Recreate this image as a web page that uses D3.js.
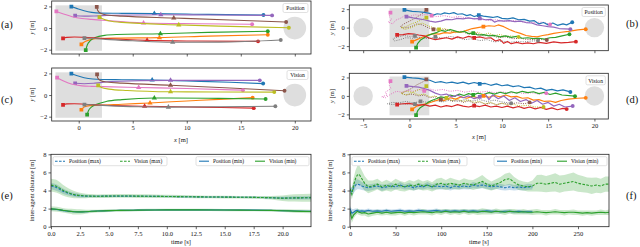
<!DOCTYPE html>
<html>
<head>
<meta charset="utf-8">
<script src="https://cdn.jsdelivr.net/npm/d3@7"></script>
<style>
body { margin: 0; background: #fff; }
svg { display: block; }
text { font-family: "Liberation Serif", "DejaVu Serif", serif; fill: #111; }
</style>
</head>
<body>
<svg id="viz"></svg>
<script>
const WIDTH = 640
const HEIGHT = 247

// agents, in the order of the tab10 palette
const AGENTS = ['1', '2', '3', '4', '5', '6', '7', '8', '9']

// (a) position-based, smooth runs [x, y] in metres
const pathsA = [
    [[-0.68, 1.98], [-0.2, 1.82], [0.5, 1.6], [1.2, 1.45], [2, 1.38], [4, 1.36], [7, 1.35], [12, 1.26], [17.1, 1.2]],
    [[0.25, -1.5], [0.6, -1.25], [1.2, -1.05], [2, -0.97], [3.5, -0.93], [7.47, -0.89], [12, -0.75], [17.5, -0.62]],
    [[0.65, -2.05], [0.8, -1.55], [1.1, -1.15], [1.6, -0.85], [2.4, -0.68], [3.5, -0.6], [7.56, -0.53], [12, -0.4], [17.5, -0.29]],
    [[-1.45, -0.95], [-1.1, -0.86], [-0.4, -0.83], [0.5, -0.86], [2, -0.95], [6.33, -1.14], [11, -1.2], [16.6, -1.23]],
    [[-0.33, 1.14], [0.5, 1.1], [1.5, 1.12], [3, 1.18], [7.6, 1.23], [12, 1.2], [17.9, 1.17]],
    [[1.67, 1.95], [1.75, 1.65], [2.0, 1.38], [2.6, 1.2], [4, 1.1], [8.8, 0.93], [14, 0.75], [19.2, 0.56]],
    [[-2.07, 1.53], [-1.4, 1.3], [-0.6, 1.05], [0.3, 0.88], [1.2, 0.8], [2.2, 0.72], [6, 0.47], [11, 0.4], [16.05, 0.35]],
    [[0.53, -0.93], [1.2, -0.95], [2.5, -1.05], [5, -1.18], [8.7, -1.32], [13, -1.3], [18.7, -1.1]],
    [[1.92, 1.02], [2.2, 0.85], [2.8, 0.68], [4, 0.52], [9.26, 0.29], [14, 0.15], [19.45, 0.02]]
]
const midA = [[7, 1.35], [7.47, -0.89], [7.56, -0.53], [6.33, -1.14], [7.6, 1.23], [8.8, 0.93], [6, 0.47], [8.7, -1.32], [9.26, 0.29]]

// (c) vision-based, smooth runs
const pathsC = [
    [[-0.68, 1.97], [-0.2, 1.8], [0.5, 1.6], [1.3, 1.48], [2.2, 1.44], [4, 1.42], [6.8, 1.39], [10, 1.3], [14, 1.18], [17.07, 1.06]],
    [[0.25, -1.36], [0.5, -1.1], [1.0, -0.98], [2, -0.95], [4, -0.85], [6.6, -0.73], [10, -0.55], [13, -0.4], [16.1, -0.24]],
    [[0.78, -1.82], [0.9, -1.45], [1.2, -1.1], [1.8, -0.8], [2.6, -0.58], [4, -0.42], [7, -0.27], [12, -0.3], [17.3, -0.36]],
    [[-1.45, -0.9], [-1.1, -0.82], [-0.4, -0.8], [0.6, -0.85], [2.5, -0.95], [6.1, -1.03], [11, -1.12], [16.2, -1.21]],
    [[-0.33, 1.09], [0.5, 1.05], [1.5, 1.1], [3, 1.25], [8.5, 1.36], [12, 1.36], [16.76, 1.36]],
    [[1.7, 1.9], [1.75, 1.6], [2.0, 1.35], [2.6, 1.2], [4, 1.1], [8.5, 0.9], [14, 0.65], [19.05, 0.4]],
    [[-2.0, 1.6], [-1.4, 1.3], [-0.6, 1.0], [0.3, 0.85], [1.2, 0.8], [2.2, 0.78], [5.55, 0.7], [10, 0.6], [15.2, 0.45]],
    [[0.53, -0.88], [1.2, -0.9], [3, -1.0], [5.5, -1.08], [8.3, -1.12], [13, -1.08], [18.2, -1.03]],
    [[1.8, 0.9], [2.1, 0.7], [2.8, 0.55], [4.5, 0.42], [8.5, 0.3], [13, 0.28], [18.1, 0.27]]
]
const midC = [[6.8, 1.39], [6.6, -0.73], [7, -0.27], [6.1, -1.03], [8.5, 1.36], [8.5, 0.9], [5.55, 0.7], [8.3, -1.12], [8.5, 0.3]]

// (b) position-based, noisy runs
const pathsB = [
    [[-0.54, 1.92], [0.3, 1.75], [1.0, 1.72], [1.6, 1.65], [2.2, 1.55], [2.6, 1.35], [3.0, 1.5], [3.4, 1.45], [3.8, 1.6], [4.3, 1.5], [4.8, 1.62], [5.2, 1.45], [5.7, 1.5], [6.2, 1.3], [6.6, 1.4], [7.0, 1.2], [7.5, 1.35], [8.0, 1.25], [8.4, 1.2], [9.0, 1.1], [9.5, 1.2], [10.0, 1.0], [10.6, 0.95], [11.2, 1.05], [11.8, 0.85], [12.4, 0.9], [13.0, 0.7], [13.5, 0.75], [14.0, 0.4], [14.5, 0.55], [15.0, 0.3], [15.5, 0.5], [16.0, 0.25], [16.6, 0.4], [17.0, 0.3], [17.6, 0.58]],
    [[0.29, -1.52], [0.8, -1.3], [1.4, -1.05], [2.0, -0.8], [2.6, -0.65], [3.2, -0.7], [3.8, -0.55], [4.4, -0.6], [5.0, -0.45], [5.6, -0.5], [6.2, -0.3], [6.8, -0.1], [7.4, 0.0], [8.0, 0.1], [8.6, 0.2], [9.2, 0.15], [9.6, 0.29], [10.2, 0.1], [10.8, -0.2], [11.4, -0.45], [12.0, -0.62], [12.6, -0.85], [13.2, -0.95], [13.8, -1.0], [14.4, -0.85], [15.0, -0.75], [15.6, -0.62], [16.4, -0.5], [17.2, -0.4], [18.2, -0.25], [19.06, -0.17]],
    [[0.72, -2.17], [0.9, -1.7], [1.2, -1.35], [1.6, -1.1], [2.0, -0.85], [2.4, -0.7], [2.9, -0.55], [3.4, -0.3], [3.9, -0.4], [4.4, -0.2], [4.9, -0.35], [5.4, -0.5], [5.9, -0.4], [6.4, -0.65], [6.9, -0.6], [7.4, -0.8], [8.0, -0.75], [8.6, -0.9], [9.2, -0.85], [9.8, -1.0], [10.4, -0.9], [11.0, -1.05], [11.6, -0.95], [12.2, -1.15], [12.8, -1.1], [13.4, -1.2], [14.0, -1.15], [14.6, -1.25], [15.2, -1.1], [15.8, -1.05], [16.5, -0.9], [17.3, -0.72]],
    [[-1.33, -0.79], [-0.7, -0.75], [-0.1, -0.65], [0.5, -0.7], [1.0, -0.8], [1.6, -0.9], [2.2, -1.15], [2.8, -1.3], [3.4, -1.2], [4.0, -1.1], [4.6, -1.25], [5.2, -1.0], [5.8, -1.15], [6.4, -0.95], [7.0, -1.1], [7.6, -1.0], [8.2, -1.15], [8.8, -1.1], [9.3, -1.45], [9.8, -1.3], [10.2, -1.7], [10.6, -1.5], [11.0, -1.75], [11.6, -1.6], [12.2, -1.75], [12.8, -1.65], [13.4, -1.75], [14.0, -1.6], [14.8, -1.7], [15.6, -1.55], [16.4, -1.65], [17.2, -1.6], [18.0, -1.52]],
    [[-0.32, 1.2], [0.4, 1.05], [1.0, 0.95], [1.6, 0.85], [2.2, 0.7], [2.8, 0.6], [3.4, 0.7], [4.0, 0.9], [4.6, 0.85], [5.2, 1.0], [5.8, 0.95], [6.4, 1.05], [7.0, 0.95], [7.6, 1.0], [8.2, 0.85], [8.8, 0.9], [9.2, 0.6], [9.6, 0.75], [10.2, 0.7], [10.8, 0.75], [11.4, 0.65], [12.0, 0.7], [12.6, 0.55], [13.2, 0.5], [13.8, 0.3], [14.4, 0.2], [15.0, 0.1], [15.6, 0.05], [16.2, -0.1], [17.4, -0.17]],
    [[1.83, 1.92], [1.5, 1.6], [1.2, 1.4], [0.6, 1.0], [0.0, 0.7], [-0.6, 0.4], [-1.0, 0.1], [-0.6, -0.05], [0.2, 0.1], [0.8, 0.4], [1.4, 0.3], [2.0, 0.0], [2.6, -0.2], [3.2, -0.3], [4.0, -0.2], [4.8, -0.5], [5.6, -0.4], [6.4, -0.7], [7.2, -0.6], [8.0, -0.9], [8.8, -0.8], [9.6, -1.1], [10.4, -1.0], [11.2, -1.2], [12.0, -1.15], [12.8, -1.3], [13.6, -1.25], [14.85, -1.34]],
    [[-2.05, 1.63], [-2.2, 1.2], [-1.9, 0.9], [-2.3, 0.6], [-1.8, 0.4], [-1.5, 0.8], [-1.0, 1.0], [-0.5, 1.3], [0.0, 1.2], [0.6, 1.4], [1.2, 1.3], [1.8, 1.45], [2.4, 1.3], [3.0, 1.2], [3.8, 1.3], [4.6, 1.1], [5.4, 1.2], [6.4, 1.0], [7.4, 0.95], [8.4, 0.8], [9.4, 0.85], [10.4, 0.7], [11.4, 0.75], [12.4, 0.6], [13.4, 0.55], [14.4, 0.6], [15.2, 0.35]],
    [[0.6, -0.9], [0.0, -0.95], [-0.6, -0.85], [-1.2, -1.0], [-1.8, -1.2], [-1.6, -1.45], [-1.0, -1.3], [-0.4, -1.1], [0.4, -1.15], [1.2, -1.05], [2.0, -1.2], [2.8, -1.0], [3.6, -1.15], [4.4, -0.95], [5.2, -1.1], [6.0, -1.3], [6.8, -1.2], [7.6, -1.4], [8.4, -1.3], [9.2, -1.55], [10.0, -1.45], [10.8, -1.6], [11.6, -1.5], [12.4, -1.55], [13.2, -1.45], [13.9, -1.41]],
    [[1.83, 1.09], [1.4, 0.9], [0.8, 0.6], [0.2, 0.4], [-0.4, 0.1], [-0.9, 0.0], [-0.5, -0.2], [0.2, 0.0], [0.8, 0.3], [1.4, 0.5], [2.0, 0.2], [2.6, 0.0], [3.2, -0.2], [3.8, -0.1], [4.4, -0.35], [5.0, -0.55], [5.6, -0.45], [6.2, -0.3], [6.8, -0.6], [7.4, -0.5], [8.0, -0.75], [8.6, -0.6], [9.2, -0.85], [9.8, -0.75], [10.4, -0.95], [11.0, -0.9], [11.8, -1.0]]
]

// (d) vision-based, noisy runs
const pathsD = [
    [[-0.54, 2.04], [0.3, 1.95], [1.0, 1.9], [1.6, 1.8], [2.2, 1.7], [2.8, 1.45], [3.4, 1.55], [4.0, 1.4], [4.6, 1.5], [5.2, 1.35], [5.8, 1.5], [6.4, 1.3], [7.0, 1.45], [7.6, 1.3], [8.2, 1.35], [8.8, 1.15], [9.4, 1.3], [10.0, 1.1], [10.6, 1.2], [11.2, 1.0], [11.8, 1.1], [12.4, 0.9], [13.0, 0.95], [13.6, 0.75], [14.2, 0.85], [14.8, 0.6], [15.4, 0.7], [16.0, 0.55], [16.6, 0.65], [17.4, 0.43]],
    [[0.29, -1.46], [0.8, -1.1], [1.4, -0.95], [2.0, -0.8], [2.6, -0.6], [3.2, -0.4], [3.8, -0.5], [4.4, -0.2], [5.0, -0.35], [5.6, -0.1], [6.2, -0.25], [6.8, -0.05], [7.4, -0.2], [8.0, 0.0], [8.6, -0.15], [9.2, 0.05], [9.8, -0.1], [10.4, 0.1], [11.0, -0.1], [11.6, -0.05], [12.2, -0.25], [12.8, -0.2], [13.4, -0.45], [14.0, -0.4], [14.6, -0.6], [15.2, -0.55], [15.8, -0.7], [16.4, -0.5], [17.2, -0.35], [18.2, -0.25], [19.06, -0.21]],
    [[0.72, -2.07], [0.9, -1.6], [1.2, -1.25], [1.6, -1.0], [2.0, -0.7], [2.4, -0.5], [2.9, -0.3], [3.4, -0.1], [3.9, -0.2], [4.4, 0.1], [4.9, -0.05], [5.4, 0.2], [5.9, 0.05], [6.4, 0.25], [6.9, 0.1], [7.4, 0.3], [8.0, 0.15], [8.6, 0.35], [9.2, 0.2], [9.8, 0.4], [10.4, 0.25], [11.0, 0.45], [11.6, 0.3], [12.2, 0.5], [12.8, 0.35], [13.4, 0.45], [14.0, 0.25], [14.6, 0.4], [15.2, 0.15], [15.8, 0.3], [16.5, 0.1], [17.9, -0.03]],
    [[-1.33, -0.93], [-0.7, -0.85], [-0.1, -0.8], [0.5, -0.9], [1.0, -1.0], [1.6, -0.95], [2.2, -1.1], [2.8, -1.0], [3.4, -1.2], [4.0, -1.05], [4.6, -1.15], [5.2, -0.95], [5.8, -1.1], [6.4, -1.2], [7.0, -1.05], [7.6, -1.15], [8.2, -1.0], [8.8, -1.2], [9.4, -1.1], [10.0, -1.25], [10.6, -1.1], [11.2, -1.3], [11.8, -1.15], [12.4, -1.35], [13.0, -1.2], [13.6, -1.4], [14.2, -1.25], [14.8, -1.45], [15.4, -1.3], [16.0, -1.5], [16.6, -1.35], [17.0, -1.43]],
    [[-0.32, 1.08], [0.4, 1.0], [1.0, 0.95], [1.6, 0.8], [2.2, 0.6], [2.8, 0.3], [3.4, 0.1], [4.0, 0.2], [4.6, -0.1], [5.2, 0.1], [5.8, -0.2], [6.4, 0.0], [7.0, -0.3], [7.6, -0.1], [8.2, 0.2], [8.6, -0.4], [9.0, 0.1], [9.6, -0.3], [10.2, 0.0], [10.8, -0.5], [11.4, -0.2], [12.0, -0.6], [12.6, -0.4], [13.2, -0.8], [13.8, -0.5], [14.4, -0.9], [15.0, -0.7], [15.6, -1.1], [16.2, -0.9], [16.8, -1.2], [17.65, -1.1]],
    [[1.83, 1.8], [1.4, 1.5], [0.8, 1.2], [0.2, 0.8], [-0.4, 0.5], [-0.9, 0.3], [-0.4, 0.1], [0.3, 0.2], [1.0, 0.0], [1.6, 0.1], [2.2, -0.2], [2.8, -0.1], [3.4, -0.4], [4.0, -0.3], [4.6, -0.6], [5.2, -0.45], [5.8, -0.7], [6.4, -0.55], [7.0, -0.8], [7.6, -0.65], [8.2, -0.9], [8.8, -0.75], [9.4, -0.95], [10.0, -0.8], [10.8, -0.9], [11.6, -0.75], [12.4, -0.85], [13.0, -0.7]],
    [[-2.05, 1.61], [-2.2, 1.2], [-2.0, 0.8], [-2.6, 0.4], [-2.4, 0.1], [-3.0, -0.1], [-2.6, -0.2], [-2.0, 0.2], [-1.4, 0.5], [-0.8, 0.4], [-0.2, 0.6], [0.4, 0.5], [1.0, 0.7], [1.6, 0.55], [2.2, 0.75], [2.8, 0.6], [3.6, 0.7], [4.4, 0.5], [5.2, 0.6], [6.0, 0.4], [6.8, 0.55], [7.6, 0.4], [8.4, 0.5], [9.2, 0.35], [10.0, 0.45], [10.8, 0.3], [11.6, 0.4], [12.4, 0.25], [13.2, 0.35], [14.0, 0.2], [14.8, 0.3]],
    [[0.6, -0.9], [0.0, -0.85], [-0.6, -0.9], [-1.2, -0.8], [-1.8, -0.95], [-2.4, -0.85], [-1.8, -0.7], [-1.2, -0.75], [-0.4, -0.6], [0.4, -0.75], [1.2, -0.6], [2.0, -0.7], [2.8, -0.5], [3.6, -0.65], [4.4, -0.45], [5.2, -0.6], [6.0, -0.4], [6.8, -0.55], [7.6, -0.4], [8.4, -0.6], [9.2, -0.45], [10.0, -0.65], [11.0, -0.8]],
    [[1.83, 1.06], [1.4, 0.8], [0.8, 0.6], [0.2, 0.3], [-0.4, 0.1], [-0.9, 0.3], [-0.4, 0.5], [0.3, 0.4], [1.0, 0.1], [1.6, 0.2], [2.2, -0.1], [2.8, 0.0], [3.4, -0.3], [4.0, -0.2], [4.6, -0.5], [5.2, -0.35], [5.8, -0.6], [6.4, -0.45], [7.0, -0.7], [7.6, -0.6], [8.2, -0.85], [8.8, -0.7], [9.4, -0.95], [10.0, -0.8], [10.6, -1.0], [11.2, -0.9], [12.0, -1.1], [12.8, -1.0], [13.6, -1.2], [14.5, -1.2]]
]

// arena: start zone and the two round obstacles
const startZone = [[-2.15, -2.1], [2.15, 2.1]]
const obstacles = [[-5, 0], [20, 0]]
const OBSTACLE_R = 1.05

// (e) inter-agent distance, short run
const tE = [0, 0.5, 1, 1.5, 2, 2.5, 3, 3.5, 4, 5, 6, 7.5, 9, 10, 12.5, 15, 17.5, 19, 20, 21, 22.45]
const posMaxE = [4.5, 4.3, 3.95, 3.7, 3.52, 3.42, 3.38, 3.37, 3.37, 3.38, 3.38, 3.37, 3.35, 3.34, 3.3, 3.27, 3.24, 3.2, 3.16, 3.18, 3.2]
const posMaxSdE = [0.35, 0.35, 0.3, 0.25, 0.22, 0.2, 0.15, 0.12, 0.12, 0.1, 0.1, 0.1, 0.1, 0.1, 0.1, 0.1, 0.1, 0.12, 0.15, 0.18, 0.2]
const visMaxE = [4.6, 4.45, 4.05, 3.75, 3.55, 3.45, 3.4, 3.38, 3.37, 3.38, 3.4, 3.38, 3.36, 3.34, 3.3, 3.27, 3.24, 3.2, 3.15, 3.18, 3.2]
const visMaxSdE = [0.7, 0.7, 0.6, 0.5, 0.4, 0.3, 0.25, 0.22, 0.2, 0.2, 0.2, 0.2, 0.2, 0.18, 0.15, 0.15, 0.15, 0.2, 0.3, 0.4, 0.45]
const posMinE = [1.95, 1.9, 1.8, 1.7, 1.65, 1.64, 1.66, 1.7, 1.74, 1.78, 1.8, 1.83, 1.85, 1.86, 1.86, 1.85, 1.83, 1.8, 1.78, 1.74, 1.7]
const posMinSdE = [0.12, 0.12, 0.12, 0.12, 0.12, 0.1, 0.1, 0.1, 0.1, 0.1, 0.1, 0.1, 0.1, 0.1, 0.1, 0.1, 0.1, 0.1, 0.1, 0.1, 0.1]
const visMinE = [1.97, 1.92, 1.82, 1.72, 1.66, 1.64, 1.66, 1.7, 1.73, 1.78, 1.8, 1.83, 1.85, 1.86, 1.86, 1.84, 1.82, 1.8, 1.77, 1.72, 1.68]
const visMinSdE = [0.25, 0.28, 0.25, 0.25, 0.3, 0.28, 0.22, 0.18, 0.15, 0.15, 0.15, 0.12, 0.12, 0.12, 0.12, 0.12, 0.12, 0.12, 0.15, 0.18, 0.2]

// (f) inter-agent distance, long run (position run stops at 200 s)
const tF = [0, 2, 4, 6, 8, 10, 13, 16, 20, 25, 30, 35, 40, 45, 50, 55, 60, 65, 70, 75, 80, 85, 90, 95, 100, 105, 110, 115, 120, 125, 130, 135, 140, 145, 150, 155, 160, 165, 170, 175, 180, 185, 190, 195, 200, 205, 210, 215, 220, 225, 230, 235, 240, 245, 250, 255, 260, 265, 270, 275, 280, 284]
const posMaxF = [4.0, 3.9, 4.3, 4.6, 4.7, 4.65, 4.5, 4.4, 4.3,
    4.4, 4.5, 4.3, 4.4, 4.5, 4.4, 4.6, 4.4, 4.5, 4.3,
    4.5, 4.4, 4.6, 4.4, 4.5, 4.4, 4.5, 4.3, 4.5, 4.4,
    4.5, 4.4, 4.6, 4.5, 4.6, 4.5, 4.4, 4.5, 4.4, 4.3,
    4.4, 4.3, 4.4, 4.3, 4.4, 4.4]
const posMaxSdF = [0.3, 0.5, 0.6, 0.6, 0.55, 0.5, 0.45, 0.4, 0.35,
    0.35, 0.3, 0.35, 0.3, 0.35, 0.3, 0.35, 0.3, 0.35, 0.3,
    0.35, 0.3, 0.35, 0.3, 0.35, 0.3, 0.35, 0.3, 0.35, 0.3,
    0.35, 0.3, 0.35, 0.3, 0.35, 0.3, 0.35, 0.3, 0.35, 0.3,
    0.35, 0.3, 0.35, 0.3, 0.35, 0.3]
const visMaxF = [4.2, 3.6, 4.6, 5.3, 5.7, 5.8, 5.3, 4.8, 4.4,
    4.5, 4.7, 4.4, 4.6, 4.4, 4.7, 4.5, 4.4, 4.6, 4.5,
    4.7, 4.5, 4.6, 4.4, 4.7, 4.8, 4.6, 4.8, 4.7, 4.6,
    4.8, 4.7, 4.6, 4.8, 5.0, 4.7, 4.5, 4.7, 4.9, 5.2,
    5.3, 4.9, 4.6, 4.5, 4.4, 4.5,
    4.8, 4.8, 4.7, 4.8, 4.9, 4.7, 4.8, 4.9, 5.0, 4.8, 4.7, 4.6, 4.5, 4.6, 4.5, 4.7, 4.7]
const visMaxSdF = [0.5, 0.6, 0.8, 0.9, 1.0, 1.0, 0.9, 0.8, 0.7,
    0.6, 0.6, 0.55, 0.6, 0.55, 0.6, 0.55, 0.5, 0.55, 0.5,
    0.55, 0.5, 0.55, 0.5, 0.6, 0.6, 0.55, 0.6, 0.55, 0.5,
    0.55, 0.5, 0.55, 0.6, 0.7, 0.6, 0.5, 0.55, 0.6, 0.65,
    0.7, 0.6, 0.55, 0.5, 0.5, 0.6,
    0.9, 0.95, 0.9, 0.95, 1.0, 0.95, 0.9, 0.95, 1.0, 0.95, 0.9, 0.85, 0.9, 0.85, 0.8, 0.85, 0.85]
const posMinF = [2.0, 1.5, 1.6, 1.75, 1.8, 1.7, 1.75, 1.7, 1.8,
    1.7, 1.75, 1.7, 1.8, 1.7, 1.75, 1.8, 1.7, 1.75, 1.7,
    1.8, 1.75, 1.7, 1.75, 1.8, 1.7, 1.75, 1.7, 1.75, 1.7,
    1.75, 1.7, 1.75, 1.7, 1.7, 1.75, 1.7, 1.7, 1.65, 1.7,
    1.7, 1.65, 1.7, 1.65, 1.65, 1.65]
const posMinSdF = [0.3, 0.45, 0.35, 0.25, 0.2, 0.2, 0.2, 0.2, 0.2,
    0.2, 0.18, 0.2, 0.18, 0.2, 0.18, 0.2, 0.18, 0.2, 0.18,
    0.2, 0.18, 0.2, 0.18, 0.2, 0.18, 0.2, 0.18, 0.2, 0.18,
    0.2, 0.18, 0.2, 0.18, 0.2, 0.18, 0.2, 0.18, 0.2, 0.18,
    0.2, 0.18, 0.2, 0.18, 0.2, 0.18]
const visMinF = [1.7, 0.9, 1.3, 1.5, 1.7, 1.6, 1.5, 1.55, 1.4,
    1.5, 1.6, 1.5, 1.6, 1.5, 1.55, 1.6, 1.5, 1.6, 1.55,
    1.6, 1.65, 1.6, 1.55, 1.65, 1.6, 1.7, 1.6, 1.65, 1.6,
    1.7, 1.6, 1.65, 1.6, 1.7, 1.65, 1.6, 1.7, 1.65, 1.6,
    1.7, 1.65, 1.6, 1.65, 1.6, 1.6,
    1.65, 1.6, 1.55, 1.6, 1.65, 1.6, 1.55, 1.6, 1.6, 1.55, 1.5, 1.55, 1.5, 1.55, 1.6, 1.55, 1.6]
const visMinSdF = [0.4, 0.5, 0.4, 0.3, 0.3, 0.3, 0.3, 0.3, 0.35,
    0.3, 0.3, 0.25, 0.3, 0.25, 0.3, 0.25, 0.3, 0.25, 0.3,
    0.25, 0.3, 0.25, 0.3, 0.25, 0.3, 0.25, 0.3, 0.25, 0.3,
    0.25, 0.3, 0.25, 0.3, 0.35, 0.3, 0.25, 0.3, 0.25, 0.3,
    0.25, 0.3, 0.25, 0.3, 0.25, 0.3,
    0.3, 0.25, 0.3, 0.25, 0.3, 0.25, 0.3, 0.25, 0.3, 0.25, 0.3, 0.25, 0.3, 0.25, 0.3, 0.25, 0.3]

const XY_TICKS = [-2, 0, 2]
const X_TICKS_LEFT = [0, 5, 10, 15, 20]
const X_TICKS_RIGHT = [-5, 0, 5, 10, 15, 20]
const DIST_TICKS = [0, 2, 4, 6, 8]
const TIME_TICKS_E = [0, 2.5, 5, 7.5, 10, 12.5, 15, 17.5, 20]
const TIME_TICKS_F = [0, 50, 100, 150, 200, 250]

// ---- style ----
const color = d3.scaleOrdinal(AGENTS, d3.schemeCategory10)
const DOTTED = ['6', '7', '8', '9']
const BLUE = '#1f77b4'
const GREEN = '#2ca02c'
const ARENA_GREY = '#dedede'
const TICK_FONT = 6.5
const LABEL_FONT = 6.5
const intFmt = d3.format('d')

const svg = d3.select('#viz').attr('width', WIDTH).attr('height', HEIGHT)
let clipCount = 0

function makePanel(box, xDomain, yDomain, opts) {
    const x = d3.scaleLinear(xDomain, [box.x0, box.x1])
    const y = d3.scaleLinear(yDomain, [box.y1, box.y0])
    const g = svg.append('g')
    const id = 'clip' + (clipCount++)
    g.append('clipPath').attr('id', id).append('rect')
        .attr('x', box.x0).attr('y', box.y0)
        .attr('width', box.x1 - box.x0).attr('height', box.y1 - box.y0)
    const plot = g.append('g').attr('clip-path', `url(#${id})`)

    const xAxis = d3.axisBottom(x).tickValues(opts.xTicks).tickSize(2.5).tickPadding(2)
        .tickFormat(opts.xLabels ? (opts.xFormat || intFmt) : '')
    const yAxis = d3.axisLeft(y).tickValues(opts.yTicks).tickSize(2.5).tickPadding(2)
        .tickFormat(intFmt)

    const gx = g.append('g').attr('transform', `translate(0,${box.y1})`).call(xAxis)
    const gy = g.append('g').attr('transform', `translate(${box.x0},0)`).call(yAxis)
    for (const ax of [gx, gy]) {
        ax.select('.domain').remove()
        ax.selectAll('line').attr('stroke', '#222').attr('stroke-width', 0.7)
        ax.selectAll('text').attr('font-size', TICK_FONT)
            .attr('font-family', '"Liberation Serif", serif').attr('fill', '#111')
    }
    const frame = g.append('rect')
        .attr('x', box.x0).attr('y', box.y0)
        .attr('width', box.x1 - box.x0).attr('height', box.y1 - box.y0)
        .attr('fill', 'none').attr('stroke', '#222').attr('stroke-width', 0.8)
    return { x, y, g, plot, box, frame }
}

function drawArena(p) {
    const [[zx0, zy0], [zx1, zy1]] = startZone
    p.plot.append('rect')
        .attr('x', p.x(zx0)).attr('y', p.y(zy1))
        .attr('width', p.x(zx1) - p.x(zx0)).attr('height', p.y(zy0) - p.y(zy1))
        .attr('fill', ARENA_GREY)
    p.plot.selectAll('circle.obst').data(obstacles).enter().append('circle')
        .attr('class', 'obst')
        .attr('cx', d => p.x(d[0])).attr('cy', d => p.y(d[1]))
        .attr('r', d => p.x(OBSTACLE_R) - p.x(0))
        .attr('fill', ARENA_GREY)
}

function drawMarkers(p, pts, col, shape) {
    const sym = d3.symbol().type(shape).size(shape === d3.symbolSquare ? 14 : 12)
    p.plot.append('g').selectAll('path').data(pts).enter().append('path')
        .attr('transform', d => `translate(${p.x(d[0])},${p.y(d[1])})`)
        .attr('d', sym)
        .attr('fill', col)
}

function drawSmoothRuns(p, paths, mids) {
    const line = d3.line().x(d => p.x(d[0])).y(d => p.y(d[1])).curve(d3.curveMonotoneX)
    paths.forEach((pts, i) => {
        const col = color(AGENTS[i])
        p.plot.append('path').datum(pts).attr('d', line)
            .attr('fill', 'none').attr('stroke', col).attr('stroke-width', 1.1)
        drawMarkers(p, [pts[0]], col, d3.symbolSquare)
        drawMarkers(p, [mids[i]], col, d3.symbolTriangle)
        drawMarkers(p, [pts[pts.length - 1]], col, d3.symbolCircle)
    })
}

function drawNoisyRuns(p, paths) {
    const line = d3.line().x(d => p.x(d[0])).y(d => p.y(d[1]))
    // dotted runs underneath, solid on top
    const order = paths.map((pts, i) => i).sort((a, b) => DOTTED.includes(AGENTS[b]) - DOTTED.includes(AGENTS[a]))
    order.forEach(i => {
        const pts = paths[i]
        const col = color(AGENTS[i])
        const dotted = DOTTED.includes(AGENTS[i])
        p.plot.append('path').datum(pts).attr('d', line)
            .attr('fill', 'none').attr('stroke', col)
            .attr('stroke-width', dotted ? 1.0 : 1.2)
            .attr('stroke-dasharray', dotted ? '1,1.3' : null)
            .attr('stroke-linejoin', 'round')
    })
    order.forEach(i => {
        const pts = paths[i]
        const col = color(AGENTS[i])
        drawMarkers(p, [pts[0]], col, d3.symbolSquare)
        drawMarkers(p, [pts[Math.floor(pts.length * 0.45)]], col, d3.symbolSquare)
        drawMarkers(p, [pts[pts.length - 1]], col, d3.symbolCircle)
    })
}

function cornerLegend(p, label, x0) {
    const b = p.box
    const w = b.x1 - 3 - x0
    const g = p.g.append('g')
    g.append('rect').attr('x', x0).attr('y', b.y0 + 2.5).attr('width', w).attr('height', 9)
        .attr('rx', 1.5).attr('fill', '#fff').attr('stroke', '#ccc').attr('stroke-width', 0.6)
    g.append('text').attr('x', x0 + w / 2).attr('y', b.y0 + 9.2)
        .attr('text-anchor', 'middle').attr('font-size', 5.6).text(label)
}

function yLabel(x, yc, parts, size) {
    const t = svg.append('text')
        .attr('transform', `translate(${x},${yc}) rotate(-90)`)
        .attr('text-anchor', 'middle').attr('font-size', size)
    parts.forEach(([s, italic]) => t.append('tspan').attr('font-style', italic ? 'italic' : null).text(s))
}

function xLabel(xc, y, parts, size) {
    const t = svg.append('text').attr('x', xc).attr('y', y)
        .attr('text-anchor', 'middle').attr('font-size', size)
    parts.forEach(([s, italic]) => t.append('tspan').attr('font-style', italic ? 'italic' : null).text(s))
}

function panelTag(x, y, s) {
    svg.append('text').attr('x', x).attr('y', y).attr('font-size', 10.5).text(s)
}

// ---- trajectory panels ----
const boxA = { x0: 51.7, x1: 311, y0: 1, y1: 54 }
const boxC = { x0: 51.7, x1: 311, y0: 68, y1: 121 }
const boxB = { x0: 349.3, x1: 608.3, y0: 5, y1: 50.7 }
const boxD = { x0: 349.3, x1: 608.3, y0: 73.3, y1: 119 }

const pA = makePanel(boxA, [-2.5, 21.5], [-2.4, 2.5], { xTicks: X_TICKS_LEFT, yTicks: XY_TICKS, xLabels: false })
const pC = makePanel(boxC, [-2.5, 21.5], [-2.4, 2.5], { xTicks: X_TICKS_LEFT, yTicks: XY_TICKS, xLabels: true })
const pB = makePanel(boxB, [-6.5, 21.5], [-2.5, 2.45], { xTicks: X_TICKS_RIGHT, yTicks: XY_TICKS, xLabels: false })
const pD = makePanel(boxD, [-6.5, 21.5], [-2.5, 2.45], { xTicks: X_TICKS_RIGHT, yTicks: XY_TICKS, xLabels: true })

for (const p of [pA, pC, pB, pD]) drawArena(p)
drawSmoothRuns(pA, pathsA, midA)
drawSmoothRuns(pC, pathsC, midC)
drawNoisyRuns(pB, pathsB)
drawNoisyRuns(pD, pathsD)
for (const p of [pA, pC, pB, pD]) p.frame.raise()

cornerLegend(pA, 'Position', 283)
cornerLegend(pC, 'Vision', 287)
cornerLegend(pB, 'Position', 582)
cornerLegend(pD, 'Vision', 586)

// ---- distance panels ----
const boxE = { x0: 51, x1: 311, y0: 154.3, y1: 226.7 }
const boxF = { x0: 350, x1: 609, y0: 154.3, y1: 226.7 }
const pE = makePanel(boxE, [0, 22.45], [0, 8], { xTicks: TIME_TICKS_E, yTicks: DIST_TICKS, xLabels: true, xFormat: d3.format('.1f') })
const pF = makePanel(boxF, [0, 284], [0, 8], { xTicks: TIME_TICKS_F, yTicks: DIST_TICKS, xLabels: true })

function drawStat(p, t, mean, sd, col, dashed, curve) {
    const pts = mean.map((m, i) => ({ t: t[i], m, s: sd[i] }))
    p.plot.append('path').datum(pts)
        .attr('d', d3.area().x(d => p.x(d.t)).y0(d => p.y(d.m - d.s)).y1(d => p.y(d.m + d.s)).curve(curve))
        .attr('fill', col).attr('fill-opacity', 0.25).attr('stroke', 'none')
    return () => p.plot.append('path').datum(pts)
        .attr('d', d3.line().x(d => p.x(d.t)).y(d => p.y(d.m)).curve(curve))
        .attr('fill', 'none').attr('stroke', col).attr('stroke-width', 1.1)
        .attr('stroke-dasharray', dashed ? '2.6,1.4' : null)
}

function statPanel(p, t, s, curve) {
    const lines = [
        drawStat(p, t, s.posMax, s.posMaxSd, BLUE, true, curve),
        drawStat(p, t, s.visMax, s.visMaxSd, GREEN, true, curve),
        drawStat(p, t, s.posMin, s.posMinSd, BLUE, false, curve),
        drawStat(p, t, s.visMin, s.visMinSd, GREEN, false, curve)
    ]
    lines.forEach(draw => draw())
    p.frame.raise()
}

statPanel(pE, tE, { posMax: posMaxE, posMaxSd: posMaxSdE, visMax: visMaxE, visMaxSd: visMaxSdE,
    posMin: posMinE, posMinSd: posMinSdE, visMin: visMinE, visMinSd: visMinSdE }, d3.curveMonotoneX)
statPanel(pF, tF, { posMax: posMaxF, posMaxSd: posMaxSdF, visMax: visMaxF, visMaxSd: visMaxSdF,
    posMin: posMinF, posMinSd: posMinSdF, visMin: visMinF, visMinSd: visMinSdF }, d3.curveLinear)

function statLegend(p, x0, x1, entries) {
    const y0 = p.box.y0 + 2.4
    const g = p.g.append('g')
    g.append('rect').attr('x', x0).attr('y', y0).attr('width', x1 - x0).attr('height', 9)
        .attr('rx', 1.5).attr('fill', '#fff').attr('stroke', '#ccc').attr('stroke-width', 0.6)
    entries.forEach(e => {
        g.append('line').attr('x1', e.lx).attr('x2', e.lx + 10).attr('y1', y0 + 4.5).attr('y2', y0 + 4.5)
            .attr('stroke', e.col).attr('stroke-width', 1.1).attr('stroke-dasharray', e.dashed ? '2.6,1.4' : null)
        g.append('text').attr('x', e.lx + 14).attr('y', y0 + 6.4).attr('font-size', 5.4).text(e.label)
    })
}

statLegend(pE, 53, 167, [
    { lx: 55, col: BLUE, dashed: true, label: 'Position (max)' },
    { lx: 120, col: GREEN, dashed: true, label: 'Vision (max)' }])
statLegend(pE, 196, 309, [
    { lx: 199, col: BLUE, dashed: false, label: 'Position (min)' },
    { lx: 255, col: GREEN, dashed: false, label: 'Vision (min)' }])
statLegend(pF, 352, 467, [
    { lx: 354, col: BLUE, dashed: true, label: 'Position (max)' },
    { lx: 418, col: GREEN, dashed: true, label: 'Vision (max)' }])
statLegend(pF, 494, 607, [
    { lx: 497, col: BLUE, dashed: false, label: 'Position (min)' },
    { lx: 557, col: GREEN, dashed: false, label: 'Vision (min)' }])

// ---- axis titles and tags ----
yLabel(34, 27.5, [['y', true], [' [m]', false]], LABEL_FONT)
yLabel(34, 94.5, [['y', true], [' [m]', false]], LABEL_FONT)
yLabel(334, 28, [['y', true], [' [m]', false]], LABEL_FONT)
yLabel(334, 96, [['y', true], [' [m]', false]], LABEL_FONT)
xLabel(181, 142, [['x', true], [' [m]', false]], LABEL_FONT)
xLabel(479, 138.5, [['x', true], [' [m]', false]], LABEL_FONT)
yLabel(34, 190.5, [['inter-agent distance [m]', false]], LABEL_FONT)
yLabel(332, 190.5, [['inter-agent distance [m]', false]], LABEL_FONT)
xLabel(181, 244, [['time [s]', false]], LABEL_FONT)
xLabel(479, 244, [['time [s]', false]], LABEL_FONT)

panelTag(1, 27.5, '(a)')
panelTag(1, 103, '(c)')
panelTag(1, 198.5, '(e)')
panelTag(626, 27, '(b)')
panelTag(626, 103, '(d)')
panelTag(626, 198.5, '(f)')
</script>
</body>
</html>
